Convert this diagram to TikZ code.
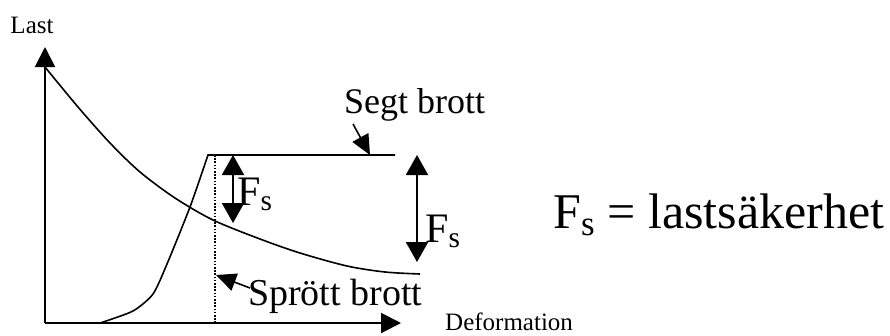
\documentclass[tikz,border=0pt]{standalone}
\usepackage{fontspec}
\setmainfont{Liberation Serif}
\usetikzlibrary{arrows.meta}

\tikzset{
  axis/.style={line width=2pt, -{Triangle[length=20pt,width=20pt]}},
  curve/.style={line width=1.6pt},
  twoway/.style={line width=2pt, {Triangle[length=20pt,width=22pt]}-{Triangle[length=20pt,width=22pt]}},
  pointer/.style={line width=1.6pt, -{Triangle[length=20pt,width=18pt]}},
  txt/.style={inner sep=0pt, anchor=base west}
}
\newcommand{\fsz}[1]{\fontsize{#1}{#1}\selectfont}

\begin{document}
\begin{tikzpicture}[x=1pt, y=-1pt]
    \useasboundingbox (0,0) rectangle (890,335);

    % axes
    \coordinate (origin) at (45,323);
    \coordinate (ytop) at (45,47);
    \coordinate (xend) at (401,323);
    \draw[axis] (origin) -- (ytop);
    \draw[axis] (origin) -- (xend);
    \node (last) at (32,25) {\fsz{25}Last};
    \node[txt] (deform) at (445,330) {\fsz{25}Deformation};

    % falling curve
    \draw[curve] plot[smooth] coordinates {(45,67) (78,107) (110,143) (140,172)
        (175,198) (213,220) (260,239) (300,253) (347,266) (385,272) (420,274)};

    % rising curve, then flat part
    \draw[curve] plot[smooth, tension=0.4] coordinates {(100,323) (133,311) (153,294)
        (167,264) (190,207) (208,155)} -- (395,155);

    % dotted line
    \draw[line width=1.6pt, dash pattern=on 1.6pt off 1.6pt] (215,155) -- (215,323);

    % load margins
    \coordinate (fsAtop) at (233,155);
    \coordinate (fsAbot) at (233,223);
    \draw[twoway] (fsAtop) -- (fsAbot);
    \node[txt] (fsA) at (237,205) {\fsz{42}F\textsubscript{s}};

    \coordinate (fsBtop) at (417,155);
    \coordinate (fsBbot) at (417,262);
    \draw[twoway] (fsBtop) -- (fsBbot);
    \node[txt] (fsB) at (425,242) {\fsz{42}F\textsubscript{s}};

    % labels with pointers
    \node[txt] (segt) at (344,113) {\fsz{36}Segt brott};
    \coordinate (segtTail) at (353,124);
    \coordinate (segtTip) at (370,155);
    \draw[pointer] (segtTail) -- (segtTip);

    \node[txt] (sprott) at (248,305) {\fsz{38}Sprött brott};
    \coordinate (sprottTail) at (250,288);
    \coordinate (sprottTip) at (216,275);
    \draw[pointer] (sprottTail) -- (sprottTip);

    % definition
    \node[txt] (defn) at (553,228) {\fsz{50}F\textsubscript{s} = lastsäkerhet};
\end{tikzpicture}
\end{document}
